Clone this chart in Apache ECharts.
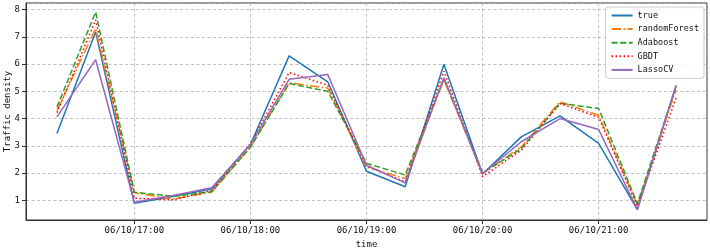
<!DOCTYPE html>
<html>
<head>
<meta charset="utf-8">
<script src="https://cdn.jsdelivr.net/npm/echarts@6/dist/echarts.min.js"></script>
<style>
html,body{margin:0;padding:0;background:#fff;}
#chart{width:710px;height:250px;}
</style>
</head>
<body>
<div id="chart"></div>
<script>
var times = ['16:20','16:40','17:00','17:20','17:40','18:00','18:20','18:40','19:00','19:20','19:40','20:00','20:20','20:40','21:00','21:20','21:40'];
var trueVals  = [3.45, 7.18, 0.89, 1.14, 1.42, 3.05, 6.30, 5.35, 2.07, 1.50, 5.99, 1.97, 3.33, 4.10, 3.09, 0.66, 5.20];
var rfVals    = [4.30, 7.30, 1.28, 1.05, 1.30, 2.95, 5.31, 5.12, 2.22, 1.80, 5.42, 1.98, 2.96, 4.62, 4.12, 0.84, 5.05];
var adaVals   = [4.42, 7.91, 1.30, 1.15, 1.32, 2.95, 5.29, 5.00, 2.36, 1.93, 5.46, 2.00, 2.90, 4.56, 4.37, 0.88, 5.18];
var gbdtVals  = [4.22, 7.62, 1.08, 1.02, 1.36, 3.08, 5.69, 5.22, 2.26, 1.68, 5.74, 1.87, 2.84, 4.55, 4.05, 0.78, 4.75];
var lassoVals = [4.06, 6.16, 0.93, 1.18, 1.46, 3.05, 5.44, 5.62, 2.29, 1.64, 5.50, 1.98, 3.15, 4.00, 3.60, 0.66, 5.22];
var seriesNames = ['true','randomForest','Adaboost','GBDT','LassoCV'];
var xMinTime = '16:04', xMaxTime = '21:56';
var yMin = 0.28, yMax = 8.24;

function ts(t){ var p=t.split(':'); return new Date(2019,5,10,+p[0],+p[1]).getTime(); }
function pad(n){ return (n<10?'0':'')+n; }
function pairs(vals){ return times.map(function(t,i){ return [ts(t), vals[i]]; }); }

var font = 'DejaVu Sans Mono';
var styles = [
  {color:'#1f77b4', type:'solid'},
  {color:'#ff7f0e', type:[9.6,2.4,1.5,2.4]},
  {color:'#2ca02c', type:[6,2.6]},
  {color:'#ff0000', type:[1.5,2.5]},
  {color:'#9467bd', type:'solid'}
];
var allVals = [trueVals, rfVals, adaVals, gbdtVals, lassoVals];

var chart = echarts.init(document.getElementById('chart'), null, {renderer:'canvas'});
chart.setOption({
  animation:false,
  backgroundColor:'#fff',
  grid:{left:26, right:3, top:3, bottom:30, containLabel:false, outerBoundsMode:'none',
        show:true, borderColor:'#333', borderWidth:1, backgroundColor:'#fff'},
  legend:{
    orient:'vertical', right:6, top:7, padding:[4,5,4,5],
    itemWidth:21, itemHeight:10, itemGap:4.6,
    backgroundColor:'rgba(255,255,255,0.85)', borderColor:'#ccc', borderWidth:1, borderRadius:3,
    textStyle:{fontFamily:font, fontSize:8.5, color:'#111'},
    itemStyle:{opacity:0, borderWidth:0},
    data:seriesNames
  },
  xAxis:{
    type:'time', min:ts(xMinTime), max:ts(xMaxTime),
    minInterval:3600000, maxInterval:3600000,
    name:'time', nameLocation:'middle', nameGap:20, nameMoveOverlap:false,
    nameTextStyle:{fontFamily:font, fontSize:9, color:'#111'},
    axisLine:{show:true, lineStyle:{color:'#333'}},
    axisTick:{show:true, length:4, lineStyle:{color:'#333'}},
    axisLabel:{fontFamily:font, fontSize:9, color:'#111', margin:6,
      formatter:function(v){ var d=new Date(v); return pad(d.getMonth()+1)+'/'+pad(d.getDate())+'/'+pad(d.getHours())+':'+pad(d.getMinutes()); }},
    splitLine:{show:true, lineStyle:{color:'#b0b0b0', type:[3,2.5], width:0.8}}
  },
  yAxis:{
    type:'value', min:yMin, max:yMax, splitNumber:8,
    name:'Traffic density', nameLocation:'middle', nameGap:14, nameRotate:90, nameMoveOverlap:false,
    nameTextStyle:{fontFamily:font, fontSize:9, color:'#111'},
    axisLine:{show:true, lineStyle:{color:'#333'}},
    axisTick:{show:true, length:4, lineStyle:{color:'#333'}},
    axisLabel:{fontFamily:font, fontSize:9, color:'#111', margin:6, showMinLabel:false, showMaxLabel:false},
    splitLine:{show:true, lineStyle:{color:'#b0b0b0', type:[3,2.5], width:0.8}}
  },
  series: seriesNames.map(function(n,i){
    return {
      name:n, type:'line', data:pairs(allVals[i]),
      symbol:'none', showSymbol:false,
      lineStyle:{color:styles[i].color, type:styles[i].type, width:1.5},
      itemStyle:{color:styles[i].color},
      z:2+i
    };
  })
});
</script>
</body>
</html>
